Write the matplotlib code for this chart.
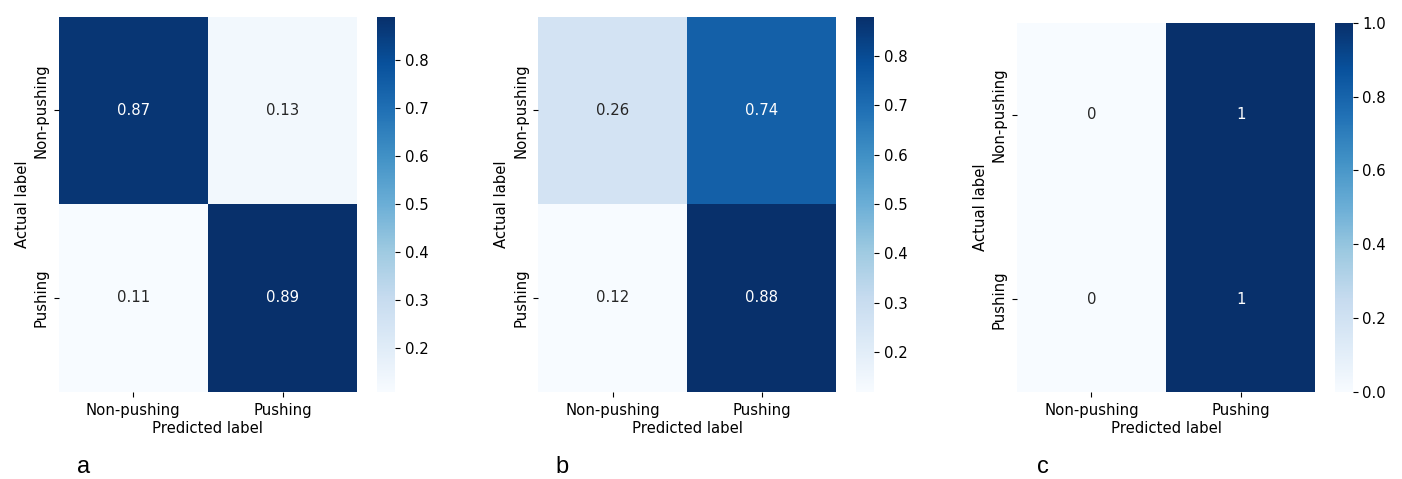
import matplotlib
matplotlib.use("Agg")
import matplotlib.pyplot as plt
import numpy as np
import seaborn as sns

# class names and normalised confusion matrices (rows = actual, cols = predicted)
class_names = ["Non-pushing", "Pushing"]
cm_a = [[0.87, 0.13],
        [0.11, 0.89]]
cm_b = [[0.26, 0.74],
        [0.12, 0.88]]
cm_c = [[0, 1],
        [0, 1]]
panel_letters = ["a", "b", "c"]

fs = 10.7
fig = plt.figure(figsize=(14.02, 4.79), dpi=100)

# axes boxes in figure fractions: heatmap, colorbar
boxes = [
    ([0.04173, 0.18225, 0.21312, 0.78330], [0.26869, 0.18225, 0.01305, 0.78330]),
    ([0.38395, 0.18225, 0.21234, 0.78330], [0.61056, 0.18225, 0.01284, 0.78330]),
    ([0.72518, 0.18225, 0.21298, 0.77035], [0.95221, 0.18225, 0.01262, 0.77035]),
]
letter_x = [0.0549, 0.3965, 0.7400]

for cm, (hbox, cbox), letter, lx in zip([cm_a, cm_b, cm_c], boxes, panel_letters, letter_x):
    ax = fig.add_axes(hbox)
    cax = fig.add_axes(cbox)
    sns.heatmap(np.array(cm), annot=True, cmap="Blues", ax=ax, cbar_ax=cax,
                xticklabels=class_names, yticklabels=class_names,
                annot_kws={"fontsize": fs})
    ax.set_yticklabels(class_names, rotation=90, va="center", fontsize=fs)
    ax.set_xticklabels(class_names, rotation=0, fontsize=fs)
    ax.set_xlabel("Predicted label", fontsize=fs, labelpad=2)
    ax.set_ylabel("Actual label", fontsize=fs, labelpad=3)
    ax.tick_params(axis="x", pad=4.5)
    cax.tick_params(labelsize=fs)
    # panel letter under each matrix
    fig.text(lx, 0.002, letter, fontsize=17, family="Liberation Sans", va="bottom")

fig.savefig("out.png", dpi=100)
